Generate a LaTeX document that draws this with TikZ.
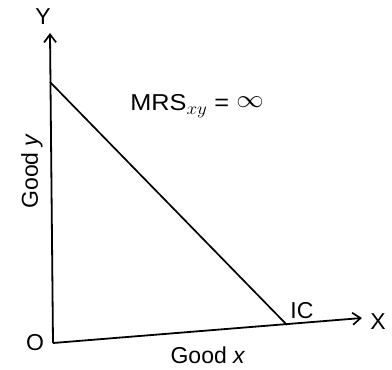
\documentclass[tikz,border=0pt]{standalone}
\usepackage{fontspec}
\setmainfont{Liberation Sans}
\usetikzlibrary{arrows.meta}

\tikzset{
  axis/.style={line width=1.8pt, -{Straight Barb[length=8pt,width=12pt,line width=1.7pt]}},
  curve/.style={line width=1.7pt},
  lbl/.style={font=\fontsize{23}{25}\selectfont, inner sep=0pt}
}

\begin{document}
\begin{tikzpicture}[x=1pt, y=-1pt]
    \useasboundingbox (0,0) rectangle (392,370);

    % Axes
    \coordinate (orig) at (53,343);
    \coordinate (ytip) at (50,33);
    \coordinate (xtip) at (362,318);
    \draw[axis] (orig) -- (ytip);
    \draw[axis] (orig) -- (xtip);

    % Indifference curve
    \coordinate (top) at (50,82);
    \coordinate (foot) at (287,325);
    \draw[curve] (top) -- (foot);

    % Labels
    \node[lbl] (ylab) at (43,17) {Y};
    \node[lbl] (xlab) at (378,322) {X};
    \node[lbl] (olab) at (35,343) {O};
    \node[lbl] (ic) at (302,311) {IC};
    \node[lbl, rotate=90] (goody) at (32,171) {Good \textit{y}};
    \node[lbl] (goodx) at (208,355) {Good \textit{x}};
    \node[lbl, xscale=1.1] (mrs) at (197,106) {MRS$_{xy}$ = \raisebox{3pt}{$\infty$}};
\end{tikzpicture}
\end{document}
